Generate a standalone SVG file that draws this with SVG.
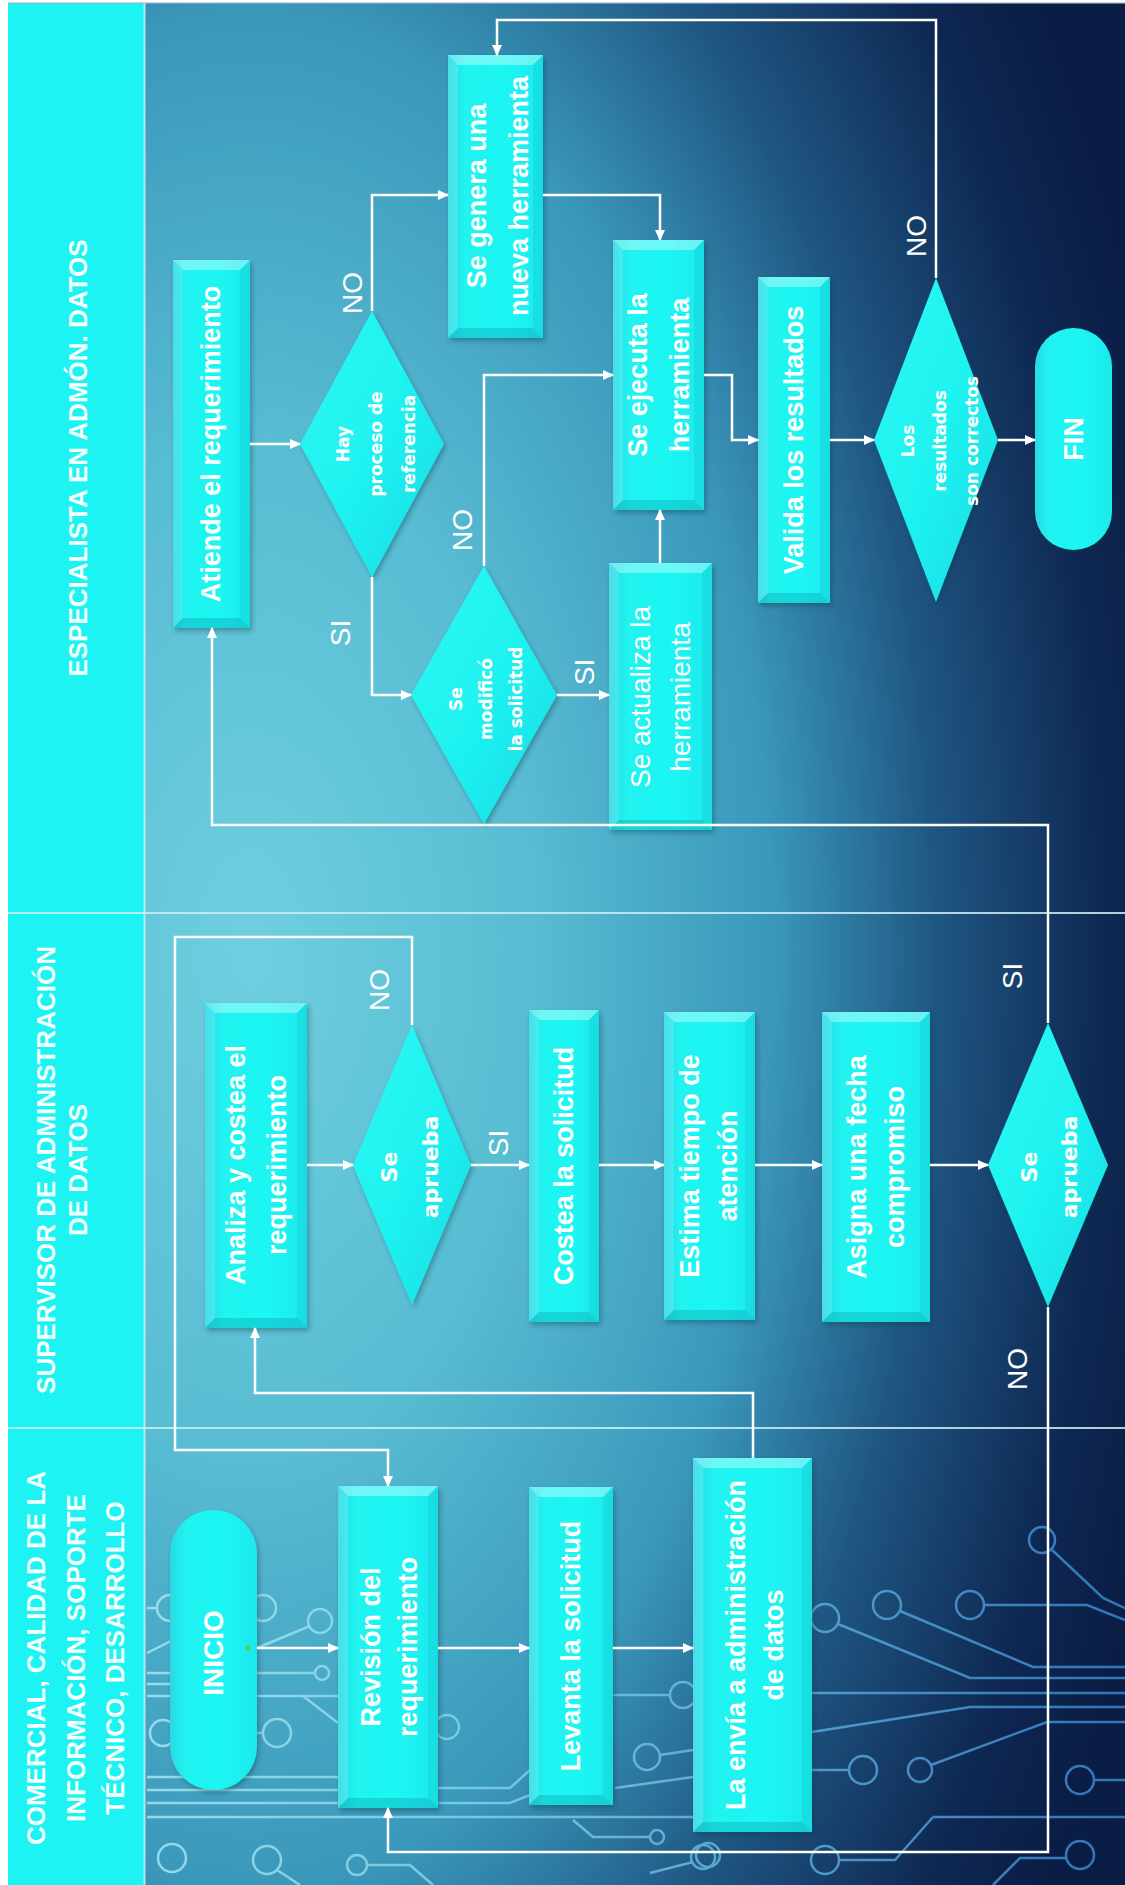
<svg xmlns="http://www.w3.org/2000/svg" width="1125" height="1885" viewBox="0 0 1125 1885">
<defs>
<radialGradient id="gBg" gradientUnits="userSpaceOnUse" cx="0" cy="0" r="1" gradientTransform="translate(250 950) scale(950 1700)">
<stop offset="0" stop-color="#6fcfe0"/>
<stop offset="0.3" stop-color="#58bcd2"/>
<stop offset="0.55" stop-color="#3a98bb"/>
<stop offset="0.72" stop-color="#1f5783"/>
<stop offset="0.9" stop-color="#0e2852"/>
<stop offset="1" stop-color="#0a1d45"/>
</radialGradient>
<linearGradient id="gBox" x1="0" y1="0" x2="1" y2="0">
<stop offset="0" stop-color="#2ad8e4"/>
<stop offset="0.18" stop-color="#20f3f1"/>
<stop offset="0.6" stop-color="#1ef6f3"/>
<stop offset="1" stop-color="#1be9ec"/>
</linearGradient>
<linearGradient id="gDia" x1="0" y1="0" x2="1" y2="1">
<stop offset="0" stop-color="#2cf6f4"/>
<stop offset="0.5" stop-color="#1ff3f1"/>
<stop offset="1" stop-color="#17d9e3"/>
</linearGradient>
<linearGradient id="gCirc" gradientUnits="userSpaceOnUse" x1="145" y1="0" x2="1125" y2="0">
<stop offset="0" stop-color="#b5eef6"/>
<stop offset="0.45" stop-color="#7fd0ee"/>
<stop offset="1" stop-color="#3d93e0"/>
</linearGradient>
<filter id="sh" x="-20%" y="-20%" width="140%" height="140%">
<feDropShadow dx="2" dy="3" stdDeviation="2.5" flood-color="#00303c" flood-opacity="0.35"/>
</filter>
<marker id="ar" markerUnits="userSpaceOnUse" markerWidth="11" markerHeight="10" viewBox="0 0 11 10" refX="10" refY="5" orient="auto">
<path d="M0,0 L11,5 L0,10 z" fill="#ffffff"/>
</marker>
<style>
.box{fill:url(#gBox);filter:url(#sh)}
.dia{fill:url(#gDia);filter:url(#sh)}
.bt{fill:#ffffff;opacity:.35}
.bb{fill:#007c8c;opacity:.25}
.bl{fill:#ffffff;opacity:.15}
.br{fill:#009aa8;opacity:.15}
.nt{font-family:"Liberation Sans",Arial,sans-serif;font-weight:bold;font-size:27px;fill:#ffffff;text-anchor:middle}
.nr{font-family:"Liberation Sans",Arial,sans-serif;font-weight:normal;font-size:28px;fill:#ffffff;text-anchor:middle}
.dt{font-family:"DejaVu Sans",sans-serif;font-weight:bold;font-size:17px;fill:#ffffff;text-anchor:middle}
.da{font-family:"DejaVu Sans",sans-serif;font-weight:bold;font-size:22px;fill:#ffffff;text-anchor:middle}
.ht{font-family:"Liberation Sans",Arial,sans-serif;font-weight:bold;font-size:26px;fill:#f4ffff;text-anchor:middle}
.lb{font-family:"Liberation Sans",Arial,sans-serif;font-size:28px;fill:#ffffff;text-anchor:middle}
.cn{fill:none;stroke:#ffffff;stroke-width:2.5;marker-end:url(#ar)}
.sep{stroke:#cdeef5;stroke-width:2;opacity:.85}
</style>
</defs>

<rect x="0" y="0" width="1125" height="1885" fill="#ffffff"/>
<rect x="8" y="3" width="1117" height="1882" fill="url(#gBg)"/>
<rect x="8" y="3" width="136" height="1882" fill="#1cf3f2"/>
<rect x="8" y="2" width="1117" height="2" fill="#9fb8cc" opacity="0.6"/>

<g id="circuit" fill="none" stroke="url(#gCirc)" stroke-width="2.5" opacity="0.75">
<path d="M147,1608 H157"/><circle cx="170" cy="1608" r="13"/>
<circle cx="263" cy="1608" r="13"/>
<path d="M147,1653 L173,1640"/>
<path d="M257,1648 L310,1626"/><circle cx="320" cy="1621" r="12"/>
<path d="M147,1673 H170 M257,1673 H315"/><circle cx="322" cy="1673" r="7"/>
<path d="M147,1684 H170"/>
<path d="M147,1696 H338 M303,1696 L338,1723"/>
<path d="M257,1733 H263"/><circle cx="277" cy="1733" r="14"/>
<circle cx="163" cy="1733" r="13"/>
<path d="M147,1777 H338"/>
<path d="M147,1790 H338 M438,1788 H510 L530,1770"/>
<path d="M147,1803 H338 M438,1803 H510 L530,1795"/>
<path d="M147,1817 H693"/>
<circle cx="447" cy="1727" r="12"/>
<path d="M613,1695 H670"/><circle cx="683" cy="1695" r="13"/>
<circle cx="647" cy="1757" r="13"/><path d="M660,1755 L693,1750"/>
<path d="M615,1788 L693,1777"/>
<path d="M573,1820 L593,1837 H650"/><circle cx="657" cy="1837" r="7"/>
<circle cx="703" cy="1857" r="12"/><path d="M650,1873 L693,1862"/>
<circle cx="357" cy="1865" r="10"/><path d="M367,1865 H410 L433,1885"/>
<circle cx="172" cy="1858" r="14"/>
<circle cx="267" cy="1860" r="14"/><path d="M277,1870 L300,1885"/>
<circle cx="1042" cy="1540" r="13"/><path d="M1051,1549 L1103,1598 L1125,1608"/>
<circle cx="970" cy="1605" r="14"/><path d="M984,1605 H1087 L1125,1620"/>
<circle cx="887" cy="1605" r="14"/><path d="M900,1611 L1033,1667 H1125"/>
<circle cx="825" cy="1618" r="14"/><path d="M838,1624 L970,1678 H1125"/>
<path d="M812,1693 H1125"/>
<path d="M812,1732 L970,1707 H1125"/>
<circle cx="920" cy="1770" r="12"/><path d="M931,1765 L1047,1722 H1125"/>
<circle cx="863" cy="1770" r="14"/><path d="M812,1770 H849"/>
<circle cx="1080" cy="1780" r="14"/><path d="M1094,1780 H1125"/>
<path d="M933,1817 H1125 M933,1817 L895,1860 H839"/><circle cx="825" cy="1860" r="14"/>
<circle cx="1080" cy="1855" r="14"/><path d="M1066,1858 H1020 L993,1885"/>
<circle cx="708" cy="1855" r="12"/>
</g>

<g id="lanes">
<line class="sep" x1="144.5" y1="3" x2="144.5" y2="1885"/>
<line class="sep" x1="8" y1="913" x2="1125" y2="913"/>
<line class="sep" x1="8" y1="1428" x2="1125" y2="1428"/>
<text class="ht" transform="translate(87 458) rotate(-90)">ESPECIALISTA EN ADMÓN. DATOS</text>
<text class="ht" transform="translate(55 1170) rotate(-90)"><tspan x="0" y="0">SUPERVISOR DE ADMINISTRACIÓN</tspan><tspan x="0" y="32">DE DATOS</tspan></text>
<text class="ht" transform="translate(45 1658) rotate(-90)"><tspan x="0" y="0">COMERCIAL, CALIDAD DE LA</tspan><tspan x="0" y="39.5">INFORMACIÓN, SOPORTE</tspan><tspan x="0" y="79">TÉCNICO, DESARROLLO</tspan></text>
</g>

<g id="n-atiende">
<g transform="translate(173 260)"><rect class="box" width="77" height="368"/><polygon class="bt" points="0,0 77,0 67,10 10,10"/><polygon class="bb" points="0,368 77,368 67,358 10,358"/><polygon class="bl" points="0,0 10,10 10,358 0,368"/><polygon class="br" points="77,0 67,10 67,358 77,368"/></g>
<text class="nt" transform="translate(220 444) rotate(-90)">Atiende el requerimiento</text>
</g>
<g id="n-hay">
<polygon class="dia" points="372,311 444,444 372,577 300,444"/>
<text class="dt" transform="translate(349 444) rotate(-90)"><tspan x="0" y="0">Hay</tspan><tspan x="0" y="33">proceso de</tspan><tspan x="0" y="66">referencia</tspan></text>
</g>
<g id="n-genera">
<g transform="translate(448 55)"><rect class="box" width="95" height="283"/><polygon class="bt" points="0,0 95,0 85,10 10,10"/><polygon class="bb" points="0,283 95,283 85,273 10,273"/><polygon class="bl" points="0,0 10,10 10,273 0,283"/><polygon class="br" points="95,0 85,10 85,273 95,283"/></g>
<text class="nt" transform="translate(486 196) rotate(-90)"><tspan x="0" y="0">Se genera una</tspan><tspan x="0" y="42">nueva herramienta</tspan></text>
</g>
<g id="n-modifico">
<polygon class="dia" points="484,566 557,695 484,824 411,695"/>
<text class="dt" transform="translate(462 699) rotate(-90)"><tspan x="0" y="0">Se</tspan><tspan x="0" y="30">modificó</tspan><tspan x="0" y="60">la solicitud</tspan></text>
</g>
<g id="n-ejecuta">
<g transform="translate(613 240)"><rect class="box" width="91" height="270"/><polygon class="bt" points="0,0 91,0 81,10 10,10"/><polygon class="bb" points="0,270 91,270 81,260 10,260"/><polygon class="bl" points="0,0 10,10 10,260 0,270"/><polygon class="br" points="91,0 81,10 81,260 91,270"/></g>
<text class="nt" transform="translate(647 375) rotate(-90)"><tspan x="0" y="0">Se ejecuta la</tspan><tspan x="0" y="42">herramienta</tspan></text>
</g>
<g id="n-actualiza">
<g transform="translate(609 563)"><rect class="box" width="103" height="267"/><polygon class="bt" points="0,0 103,0 93,10 10,10"/><polygon class="bb" points="0,267 103,267 93,257 10,257"/><polygon class="bl" points="0,0 10,10 10,257 0,267"/><polygon class="br" points="103,0 93,10 93,257 103,267"/></g>
<text class="nr" transform="translate(650 697) rotate(-90)"><tspan x="0" y="0">Se actualiza la</tspan><tspan x="0" y="40">herramienta</tspan></text>
</g>
<g id="n-valida">
<g transform="translate(758 277)"><rect class="box" width="72" height="326"/><polygon class="bt" points="0,0 72,0 62,10 10,10"/><polygon class="bb" points="0,326 72,326 62,316 10,316"/><polygon class="bl" points="0,0 10,10 10,316 0,326"/><polygon class="br" points="72,0 62,10 62,316 72,326"/></g>
<text class="nt" transform="translate(803 440) rotate(-90)">Valida los resultados</text>
</g>
<g id="n-correctos">
<polygon class="dia" points="936,278 998,440 936,602 874,440"/>
<text class="dt" transform="translate(914 441) rotate(-90)"><tspan x="0" y="0">Los</tspan><tspan x="0" y="32">resultados</tspan><tspan x="0" y="64">son correctos</tspan></text>
</g>
<g id="n-fin">
<rect class="box" x="1035" y="328" width="77" height="222" rx="38.5"/>
<text class="nt" transform="translate(1083 439) rotate(-90)">FIN</text>
</g>

<g id="n-analiza">
<g transform="translate(205 1003)"><rect class="box" width="102" height="325"/><polygon class="bt" points="0,0 102,0 92,10 10,10"/><polygon class="bb" points="0,325 102,325 92,315 10,315"/><polygon class="bl" points="0,0 10,10 10,315 0,325"/><polygon class="br" points="102,0 92,10 92,315 102,325"/></g>
<text class="nt" transform="translate(245 1165) rotate(-90)"><tspan x="0" y="0">Analiza y costea el</tspan><tspan x="0" y="41">requerimiento</tspan></text>
</g>
<g id="n-aprueba1">
<polygon class="dia" points="412,1025 471,1165 412,1305 353,1165"/>
<text class="da" transform="translate(397 1167) rotate(-90)"><tspan x="0" y="0">Se</tspan><tspan x="0" y="41">aprueba</tspan></text>
</g>
<g id="n-costea">
<g transform="translate(529 1010)"><rect class="box" width="70" height="312"/><polygon class="bt" points="0,0 70,0 60,10 10,10"/><polygon class="bb" points="0,312 70,312 60,302 10,302"/><polygon class="bl" points="0,0 10,10 10,302 0,312"/><polygon class="br" points="70,0 60,10 60,302 70,312"/></g>
<text class="nt" transform="translate(573 1166) rotate(-90)">Costea la solicitud</text>
</g>
<g id="n-estima">
<g transform="translate(664 1012)"><rect class="box" width="91" height="308"/><polygon class="bt" points="0,0 91,0 81,10 10,10"/><polygon class="bb" points="0,308 91,308 81,298 10,298"/><polygon class="bl" points="0,0 10,10 10,298 0,308"/><polygon class="br" points="91,0 81,10 81,298 91,308"/></g>
<text class="nt" transform="translate(699 1166) rotate(-90)"><tspan x="0" y="0">Estima tiempo de</tspan><tspan x="0" y="38">atención</tspan></text>
</g>
<g id="n-asigna">
<g transform="translate(822 1012)"><rect class="box" width="108" height="310"/><polygon class="bt" points="0,0 108,0 98,10 10,10"/><polygon class="bb" points="0,310 108,310 98,300 10,300"/><polygon class="bl" points="0,0 10,10 10,300 0,310"/><polygon class="br" points="108,0 98,10 98,300 108,310"/></g>
<text class="nt" transform="translate(866 1167) rotate(-90)"><tspan x="0" y="0">Asigna una fecha</tspan><tspan x="0" y="38">compromiso</tspan></text>
</g>
<g id="n-aprueba2">
<polygon class="dia" points="1048,1023 1108,1165 1048,1307 988,1165"/>
<text class="da" transform="translate(1037 1167) rotate(-90)"><tspan x="0" y="0">Se</tspan><tspan x="0" y="40">aprueba</tspan></text>
</g>

<g id="n-inicio">
<rect class="box" x="170" y="1510" width="87" height="280" rx="43.5"/>
<text class="nt" style="font-size:28px" transform="translate(223 1653) rotate(-90)">INICIO</text>
</g>
<g id="n-revision">
<g transform="translate(338 1486)"><rect class="box" width="100" height="322"/><polygon class="bt" points="0,0 100,0 90,10 10,10"/><polygon class="bb" points="0,322 100,322 90,312 10,312"/><polygon class="bl" points="0,0 10,10 10,312 0,322"/><polygon class="br" points="100,0 90,10 90,312 100,322"/></g>
<text class="nt" transform="translate(380 1647) rotate(-90)"><tspan x="0" y="0">Revisión del</tspan><tspan x="0" y="37">requerimiento</tspan></text>
</g>
<g id="n-levanta">
<g transform="translate(529 1487)"><rect class="box" width="84" height="318"/><polygon class="bt" points="0,0 84,0 74,10 10,10"/><polygon class="bb" points="0,318 84,318 74,308 10,308"/><polygon class="bl" points="0,0 10,10 10,308 0,318"/><polygon class="br" points="84,0 74,10 74,308 84,318"/></g>
<text class="nt" transform="translate(580 1646) rotate(-90)">Levanta la solicitud</text>
</g>
<g id="n-envia">
<g transform="translate(693 1458)"><rect class="box" width="119" height="374"/><polygon class="bt" points="0,0 119,0 109,10 10,10"/><polygon class="bb" points="0,374 119,374 109,364 10,364"/><polygon class="bl" points="0,0 10,10 10,364 0,374"/><polygon class="br" points="119,0 109,10 109,364 119,374"/></g>
<text class="nt" transform="translate(745 1645) rotate(-90)"><tspan x="0" y="0">La envía a administración</tspan><tspan x="0" y="38">de datos</tspan></text>
</g>

<g id="connectors">
<path class="cn" d="M250,444 H300"/>
<path class="cn" d="M372,311 V195 H448"/>
<path class="cn" d="M372,577 V695 H411"/>
<path class="cn" d="M484,566 V375 H613"/>
<path class="cn" d="M557,695 H609"/>
<path class="cn" d="M660,563 V510"/>
<path class="cn" d="M543,195 H660 V240"/>
<path class="cn" d="M704,375 H732 V440 H758"/>
<path class="cn" d="M830,440 H874"/>
<path class="cn" d="M998,440 H1035"/>
<path class="cn" d="M936,278 V20 H497 V55"/>
<path class="cn" d="M307,1165 H353"/>
<path class="cn" d="M412,1025 V937 H175 V1450 H388 V1486"/>
<path class="cn" d="M471,1165 H529"/>
<path class="cn" d="M599,1165 H664"/>
<path class="cn" d="M755,1165 H822"/>
<path class="cn" d="M930,1165 H988"/>
<path class="cn" d="M1048,1023 V825 H212 V628"/>
<path class="cn" d="M1048,1307 V1852 H388 V1808"/>
<path class="cn" d="M257,1648 H338"/>
<path class="cn" d="M438,1648 H529"/>
<path class="cn" d="M613,1648 H693"/>
<path class="cn" d="M753,1458 V1393 H255 V1328"/>
<circle cx="248" cy="1648" r="3" fill="#4fd46a"/>
<text class="lb" transform="translate(362 293) rotate(-90)">NO</text>
<text class="lb" transform="translate(350 633) rotate(-90)">SI</text>
<text class="lb" transform="translate(472 530) rotate(-90)">NO</text>
<text class="lb" transform="translate(594 672) rotate(-90)">SI</text>
<text class="lb" transform="translate(926 236) rotate(-90)">NO</text>
<text class="lb" transform="translate(389 990) rotate(-90)">NO</text>
<text class="lb" transform="translate(508 1143) rotate(-90)">SI</text>
<text class="lb" transform="translate(1022 976) rotate(-90)">SI</text>
<text class="lb" transform="translate(1027 1369) rotate(-90)">NO</text>
</g>
</svg>
